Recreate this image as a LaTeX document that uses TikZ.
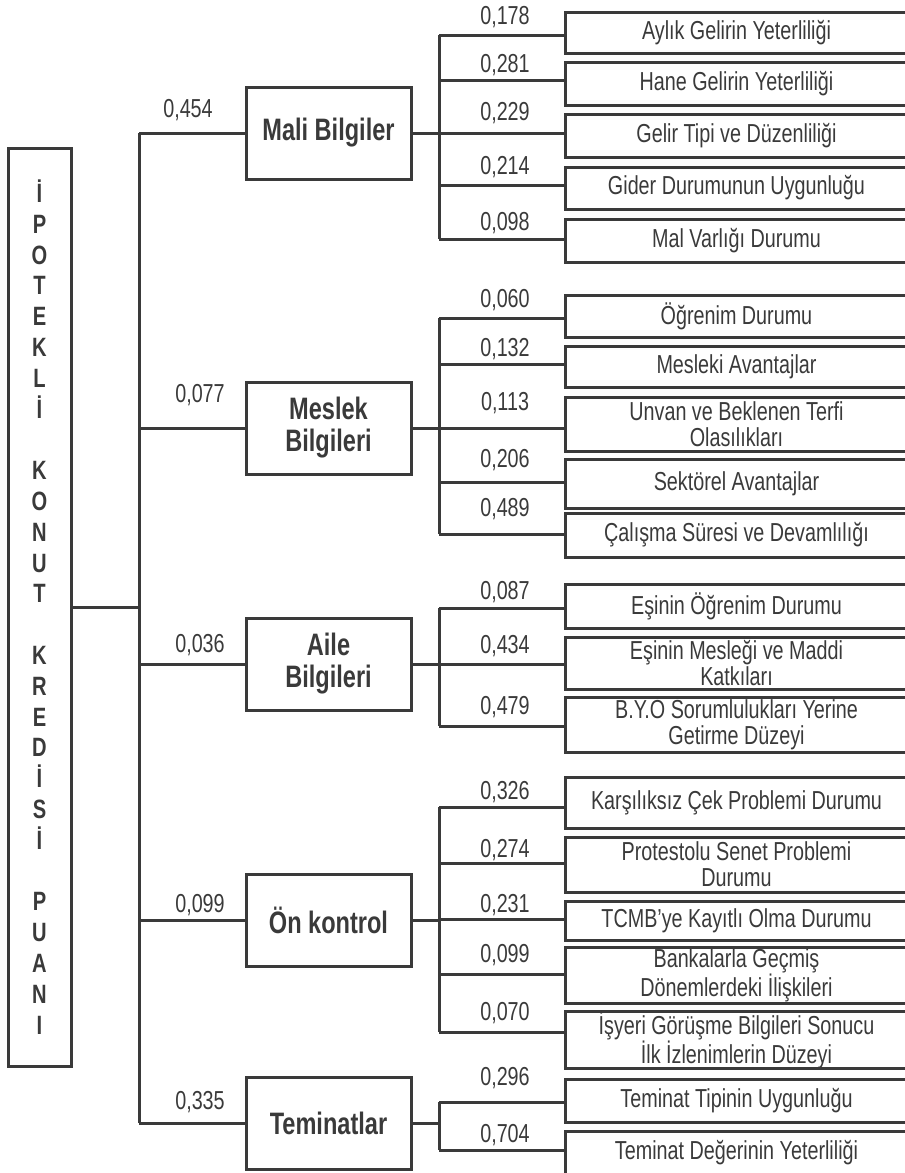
\documentclass[tikz,border=0pt]{standalone}
\usepackage{fontspec}
\setmainfont{Liberation Sans}[FakeStretch=0.76]
\definecolor{ink}{RGB}{58,58,58}
\begin{document}
\begin{tikzpicture}[x=1pt,y=-1pt,
  conn/.style={draw=ink,line width=3pt},
  rootbox/.style={draw=ink,line width=3pt,minimum width=63pt,minimum height=918pt,inner sep=0pt,align=center,text=ink,font=\fontsize{26.5}{30.8}\selectfont\bfseries},
  catbox/.style={draw=ink,line width=3pt,minimum width=165pt,minimum height=92pt,inner sep=0pt,align=center,text=ink,font=\fontsize{31}{32}\selectfont\bfseries},
  subbox/.style={draw=ink,line width=3pt,minimum width=343pt,inner sep=0pt,align=center,text=ink,font=\fontsize{26}{26}\selectfont},
  wlabel/.style={inner sep=0pt,text=ink,font=\fontsize{26}{26}\selectfont}]
\useasboundingbox (0,0) rectangle (905,1173);

% root
\node[rootbox] (root) at (39.5,607) {İ\\P\\O\\T\\E\\K\\L\\İ\\[30.8pt]K\\O\\N\\U\\T\\[30.8pt]K\\R\\E\\D\\İ\\S\\İ\\[30.8pt]P\\U\\A\\N\\I};

% categories
\node[catbox] (mali) at (328.5,133) {Mali Bilgiler};
\node[catbox] (meslek) at (328.5,428) {Meslek\\Bilgileri};
\node[catbox] (aile) at (328.5,664) {Aile\\Bilgileri};
\node[catbox] (on) at (328.5,920) {Ön kontrol};
\node[catbox] (tem) at (328.5,1123) {Teminatlar};

\coordinate (tr) at (139,607);
\draw[conn] (root.east) -- (tr);
\draw[conn] (mali.west -| tr) -- (tem.west -| tr);
\foreach \cn/\cv/\cx/\cy in {mali/{0,454}/188/110, meslek/{0,077}/200/395, aile/{0,036}/200/645, on/{0,099}/200/905, tem/{0,335}/200/1102}{
  \draw[conn] (\cn.west) -- (\cn.west -| tr);
  \node[wlabel] (\cn w) at (\cx,\cy) {\cv};
}

% sub-trunks
\coordinate (sx) at (439,0);
\draw[conn] (mali.east) -- (mali.east -| sx);
\draw[conn] (meslek.east) -- (meslek.east -| sx);
\draw[conn] (aile.east) -- (aile.east -| sx);
\draw[conn] (on.east) -- (on.east -| sx);
\draw[conn] (tem.east) -- (tem.east -| sx);
\draw[conn] (439,35) -- (439,239);
\draw[conn] (439,318) -- (439,534);
\draw[conn] (439,608) -- (439,726);
\draw[conn] (439,807) -- (439,1032);
\draw[conn] (439,1102) -- (439,1150);

% sub-criteria
\foreach \na/\tp/\bt/\ln/\ly/\vv/\tx in {
 a1/12/53/35/17/{0,178}/{Aylık Gelirin Yeterliliği},
 a2/62/105/80/65/{0,281}/{Hane Gelirin Yeterliliği},
 a3/114/157/133/113/{0,229}/{Gelir Tipi ve Düzenliliği},
 a4/167/209/185/167/{0,214}/{Gider Durumunun Uygunluğu},
 a5/219/262/239/223/{0,098}/{Mal Varlığı Durumu},
 b1/295/337/318/300/{0,060}/{Öğrenim Durumu},
 b2/346/387/364/349/{0,132}/{Mesleki Avantajlar},
 b3/397/451/428/403/{0,113}/{Unvan ve Beklenen Terfi\\Olasılıkları},
 b4/459/508/482/460/{0,206}/{Sektörel Avantajlar},
 b5/513/557/534/509/{0,489}/{Çalışma Süresi ve Devamlılığı},
 c1/584/628/608/592/{0,087}/{Eşinin Öğrenim Durumu},
 c2/637/689/664/646/{0,434}/{Eşinin Mesleği ve Maddi\\Katkıları},
 c3/697/752/726/707/{0,479}/{B.Y.O Sorumlulukları Yerine\\Getirme Düzeyi},
 d1/777/828/807/792/{0,326}/{Karşılıksız Çek Problemi Durumu},
 d2/837/892/863/850/{0,274}/{Protestolu Senet Problemi\\Durumu},
 d3/901/940/919/905/{0,231}/{TCMB’ye Kayıtlı Olma Durumu},
 d4/947/1003/974/955/{0,099}/{Bankalarla Geçmiş\\Dönemlerdeki İlişkileri},
 d5/1012/1068/1032/1013/{0,070}/{İşyeri Görüşme Bilgileri Sonucu\\İlk İzlenimlerin Düzeyi},
 e1/1079/1122/1102/1078/{0,296}/{Teminat Tipinin Uygunluğu},
 e2/1131/1175/1150/1135/{0,704}/{Teminat Değerinin Yeterliliği}}{
  \node[subbox,minimum height={\bt-\tp}] (\na) at (736.5,{(\tp+\bt)/2}) {\tx};
  \node[wlabel] (\na w) at (505,\ly) {\vv};
  \draw[conn] (\na.west |- 0,\ln) -- (sx |- 0,\ln);
}
\end{tikzpicture}
\end{document}
